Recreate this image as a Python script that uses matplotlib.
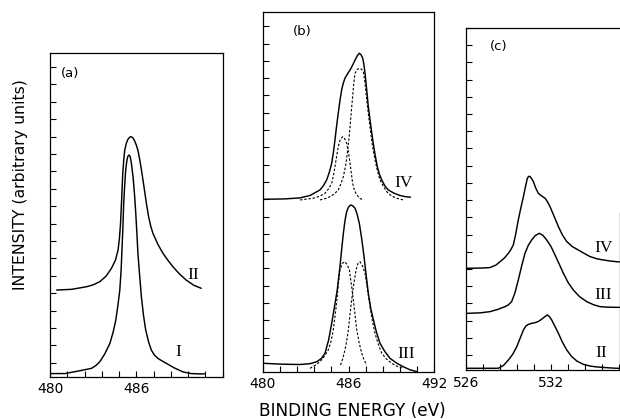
import matplotlib
matplotlib.use("Agg")
import matplotlib.pyplot as plt
from matplotlib.ticker import MultipleLocator, FixedLocator, NullFormatter

# ---------------- data ----------------
# (a) spectra I and II
a_I_energy = [480.0, 481.04, 482.0, 482.89, 483.2, 483.46, 483.8, 484.16, 484.4, 484.57,
              484.72, 484.85, 484.94, 485.01, 485.07, 485.12, 485.19, 485.26, 485.33,
              485.4, 485.49, 485.57, 485.65, 485.71, 485.77, 485.87, 485.96, 486.04,
              486.11, 486.23, 486.35, 486.5, 486.65, 486.85, 487.04, 487.25, 487.5,
              487.8, 488.08, 488.6, 489.23, 489.8, 490.39, 490.73]
a_I_counts = [-0.62, -0.62, -0.47, -0.32, -0.15, 0.06, 0.5, 1.11, 1.8, 2.45,
              3.3, 4.18, 5.3, 6.67, 7.9, 9.16, 10.2, 11.07, 11.55,
              11.85, 11.94, 11.85, 11.5, 11.1, 10.69, 9.7, 8.59, 7.4,
              6.29, 5.0, 3.79, 2.7, 1.88, 1.2, 0.73, 0.45, 0.25,
              0.1, -0.03, -0.28, -0.52, -0.62, -0.64, -0.64]
a_II_energy = [480.46, 481.5, 482.54, 483.0, 483.46, 483.9, 484.27, 484.55, 484.73, 484.83,
               484.9, 484.98, 485.05, 485.12, 485.19, 485.3, 485.4, 485.53, 485.66,
               485.78, 485.9, 486.0, 486.11, 486.23, 486.35, 486.46, 486.58, 486.7,
               486.85, 487.0, 487.15, 487.5, 487.85, 488.2, 488.54, 489.0, 489.47,
               490.0, 490.51]
a_II_counts = [4.18, 4.22, 4.37, 4.48, 4.66, 4.98, 5.43, 5.9, 6.48, 7.2,
               8.0, 9.4, 10.8, 11.6, 12.2, 12.6, 12.82, 12.96, 12.99,
               12.9, 12.72, 12.5, 12.2, 11.7, 11.1, 10.5, 9.83, 9.15,
               8.4, 7.85, 7.44, 6.8, 6.29, 5.88, 5.52, 5.1, 4.75,
               4.45, 4.28]

# (b) spectra III and IV with their two fitted components
b_IV_energy = [480.0, 481.5, 482.6, 483.3, 484.0, 484.25, 484.47, 484.65, 484.82, 484.94,
               485.05, 485.16, 485.28, 485.4, 485.52, 485.63, 485.75, 485.93, 486.11,
               486.3, 486.46, 486.62, 486.76, 486.88, 487.0, 487.08, 487.16, 487.28,
               487.39, 487.55, 487.7, 487.86, 488.02, 488.17, 488.33, 488.55, 488.79,
               489.2, 489.61, 490.0, 490.35]
b_IV_counts = [9.0, 9.02, 9.08, 9.22, 9.54, 9.8, 10.12, 10.55, 11.08, 11.7,
               12.43, 13.2, 13.97, 14.7, 15.32, 15.7, 15.99, 16.25, 16.47,
               16.77, 17.05, 17.3, 17.44, 17.35, 17.15, 16.8, 16.28, 15.3,
               14.35, 13.35, 12.43, 11.6, 10.88, 10.45, 10.12, 9.78, 9.54,
               9.35, 9.22, 9.15, 9.12]
b_IV_low_energy = [482.6, 483.53, 484.0, 484.35, 484.6, 484.82, 484.95, 485.05, 485.17,
                   485.28, 485.42, 485.59, 485.73, 485.87, 486.0, 486.11, 486.2, 486.29,
                   486.42, 486.58, 486.8, 487.04]
b_IV_low_counts = [8.96, 9.06, 9.18, 9.35, 9.6, 9.92, 10.4, 10.88, 11.5,
                   12.04, 12.45, 12.62, 12.5, 12.24, 11.7, 11.08, 10.5, 9.92,
                   9.5, 9.25, 9.05, 8.96]
b_IV_high_energy = [484.0, 484.4, 484.7, 485.0, 485.28, 485.47, 485.64, 485.8, 485.92,
                    486.02, 486.11, 486.2, 486.29, 486.37, 486.46, 486.6, 486.76, 486.9,
                    487.04, 487.16, 487.28, 487.42, 487.56, 487.7, 487.86, 488.03, 488.21,
                    488.45, 488.68, 489.0, 489.38, 489.85]
b_IV_high_counts = [8.96, 9.05, 9.15, 9.3, 9.54, 9.9, 10.31, 10.95, 11.66,
                    12.4, 13.2, 14.1, 14.93, 15.7, 16.28, 16.5, 16.57, 16.52,
                    16.38, 15.7, 14.74, 13.75, 12.82, 12.0, 11.27, 10.65, 10.12,
                    9.75, 9.44, 9.2, 9.06, 8.96]

b_III_energy = [480.02, 481.3, 482.6, 483.3, 483.77, 484.1, 484.35, 484.6, 484.82, 485.02,
                485.21, 485.3, 485.4, 485.52, 485.64, 485.75, 485.87, 486.0, 486.15,
                486.3, 486.46, 486.6, 486.76, 486.93, 487.09, 487.24, 487.39, 487.56,
                487.75, 487.97, 488.21, 488.55, 488.91, 489.4, 489.85, 490.3, 490.79]
b_III_counts = [-0.48, -0.53, -0.55, -0.5, -0.39, -0.2, 0.1, 0.85, 1.83, 2.8,
                3.76, 4.4, 5.1, 6.1, 7.03, 7.75, 8.28, 8.55, 8.67,
                8.62, 8.48, 8.15, 7.61, 6.7, 5.68, 4.6, 3.57, 2.7,
                2.02, 1.3, 0.68, 0.2, -0.19, -0.48, -0.68, -0.85, -0.96]
b_III_low_energy = [483.3, 483.65, 484.0, 484.3, 484.58, 484.78, 484.93, 485.08, 485.21,
                    485.3, 485.4, 485.57, 485.75, 485.92, 486.06, 486.2, 486.34, 486.46,
                    486.58, 486.75, 486.93, 487.1, 487.28]
b_III_low_counts = [-0.77, -0.6, -0.39, -0.08, 0.29, 0.8, 1.45, 2.4, 3.37,
                    4.2, 4.91, 5.3, 5.39, 5.2, 4.91, 4.1, 3.18, 2.3,
                    1.45, 0.7, 0.1, -0.3, -0.58]
b_III_high_energy = [485.44, 485.6, 485.75, 485.87, 485.99, 486.1, 486.22, 486.37, 486.53,
                     486.67, 486.81, 486.98, 487.16, 487.33, 487.51, 487.68, 487.86, 488.1,
                     488.33, 488.65, 489.03, 489.4, 489.85]
b_III_high_counts = [-0.58, -0.2, 0.29, 0.8, 1.45, 2.3, 3.18, 4.1, 4.91,
                     5.3, 5.39, 5.15, 4.72, 3.8, 2.79, 1.95, 1.25, 0.6,
                     0.1, -0.22, -0.48, -0.65, -0.77]

# (c) spectra II, III and IV
c_IV_energy = [526.05, 527.0, 527.69, 528.1, 528.4, 528.7, 528.99, 529.18, 529.34, 529.5,
               529.69, 529.87, 530.05, 530.2, 530.33, 530.42, 530.52, 530.63, 530.75,
               530.92, 531.1, 531.32, 531.58, 531.75, 531.93, 532.22, 532.52, 532.8,
               533.11, 533.5, 533.93, 534.35, 534.75, 535.2, 535.69, 536.2, 536.64, 536.83]
c_IV_counts = [5.04, 5.05, 5.08, 5.22, 5.42, 5.63, 5.91, 6.15, 6.4, 7.0,
               7.85, 8.55, 9.2, 9.8, 10.27, 10.38, 10.37, 10.25, 10.08,
               9.7, 9.4, 9.25, 9.11, 8.9, 8.62, 8.05, 7.46, 6.98,
               6.59, 6.3, 6.1, 5.9, 5.72, 5.6, 5.52, 5.46, 5.42, 5.41]
c_III_energy = [526.05, 527.0, 527.69, 528.25, 528.75, 529.0, 529.22, 529.45, 529.69, 529.92,
                530.16, 530.4, 530.64, 530.9, 531.17, 531.43, 531.69, 532.0, 532.28,
                532.58, 532.87, 533.2, 533.57, 534.0, 534.52, 535.0, 535.46, 536.0,
                536.64, 536.83]
c_III_counts = [2.42, 2.45, 2.52, 2.65, 2.81, 2.92, 3.1, 3.6, 4.36, 5.15,
                5.91, 6.38, 6.69, 6.95, 7.07, 6.95, 6.69, 6.3, 5.81,
                5.28, 4.75, 4.22, 3.78, 3.4, 3.1, 2.92, 2.81, 2.78,
                2.77, 2.77]
c_II_energy = [526.05, 527.2, 528.28, 528.65, 528.99, 529.3, 529.58, 529.82, 530.05, 530.22,
               530.4, 530.63, 530.87, 531.1, 531.34, 531.55, 531.74, 531.9, 532.05,
               532.28, 532.52, 532.8, 533.11, 533.45, 533.82, 534.28, 534.75, 535.2,
               535.69, 536.2, 536.64, 536.83]
c_II_counts = [-0.77, -0.77, -0.77, -0.6, -0.29, 0.05, 0.48, 0.98, 1.45, 1.68,
               1.78, 1.84, 1.88, 1.95, 2.08, 2.22, 2.33, 2.22, 2.03,
               1.66, 1.26, 0.75, 0.29, -0.08, -0.35, -0.54, -0.64, -0.69,
               -0.72, -0.75, -0.77, -0.77]

# tick labels
a_xticks = [480, 486]
b_xticks = [480, 486, 492]
c_xticks = [526, 532]

# ---------------- figure ----------------
W, H = 620, 419
fig = plt.figure(figsize=(W / 100, H / 100), dpi=100)
fig.patch.set_facecolor("white")


def rect(left, right, top, bottom):
    return [left / W, 1 - bottom / H, (right - left) / W, (bottom - top) / H]


ax_a = fig.add_axes(rect(50, 222.7, 53, 376.7))
ax_b = fig.add_axes(rect(263, 434, 11.7, 371.7))
ax_c = fig.add_axes(rect(466, 619.5, 28, 370))

TICK_FONT = dict(family="DejaVu Sans", size=10)
ROMAN = dict(family="Liberation Serif", size=12.5, color="black")
SOLID = dict(color="black", lw=1.05, solid_joinstyle="round", solid_capstyle="round")
DASH = dict(color="black", lw=0.8, linestyle=(0, (2.2, 1.6)))


def style(ax, xlim, ylim, xticks):
    ax.set_xlim(*xlim)
    ax.set_ylim(*ylim)
    for s in ax.spines.values():
        s.set_linewidth(0.9)
    ax.xaxis.set_major_locator(FixedLocator(xticks))
    ax.xaxis.set_minor_locator(MultipleLocator(1.2, offset=xlim[0] % 1.2))
    ax.yaxis.set_major_locator(MultipleLocator(1))
    ax.yaxis.set_major_formatter(NullFormatter())
    ax.tick_params(axis="x", which="both", direction="in", length=4, width=0.8,
                   top=False, pad=4)
    ax.tick_params(axis="y", which="major", direction="in", length=4, width=0.8,
                   right=False)
    ax.set_xticklabels([str(t) for t in xticks], **TICK_FONT)


style(ax_a, (480, 492), (-0.8, 17.8), a_xticks)
style(ax_b, (480, 492), (-0.965, 19.84), b_xticks)
style(ax_c, (526, 536.83), (-0.87, 19.0), c_xticks)

# panel (a)
ax_a.plot(a_I_energy, a_I_counts, **SOLID)
ax_a.plot(a_II_energy, a_II_counts, **SOLID)
ax_a.text(489.92, 5.04, "II", ha="center", va="center", **ROMAN)
ax_a.text(488.89, 0.63, "I", ha="center", va="center", **ROMAN)
ax_a.text(481.39, 16.65, "(a)", ha="center", va="center", family="DejaVu Sans", size=9.5)

# panel (b)
ax_b.plot(b_IV_energy, b_IV_counts, **SOLID)
ax_b.plot(b_IV_low_energy, b_IV_low_counts, **DASH)
ax_b.plot(b_IV_high_energy, b_IV_high_counts, **DASH)
ax_b.plot(b_III_energy, b_III_counts, **SOLID)
ax_b.plot(b_III_low_energy, b_III_low_counts, **DASH)
ax_b.plot(b_III_high_energy, b_III_high_counts, **DASH)
ax_b.text(489.85, 9.96, "IV", ha="center", va="center", **ROMAN)
ax_b.text(490.08, 0.05, "III", ha="center", va="center", **ROMAN)
ax_b.text(482.72, 18.69, "(b)", ha="center", va="center", family="DejaVu Sans", size=9.5)

# panel (c)
ax_c.plot(c_IV_energy, c_IV_counts, **SOLID)
ax_c.plot(c_III_energy, c_III_counts, **SOLID)
ax_c.plot(c_II_energy, c_II_counts, **SOLID)
ax_c.text(535.69, 6.2, "IV", ha="center", va="center", **ROMAN)
ax_c.text(535.69, 3.49, "III", ha="center", va="center", **ROMAN)
ax_c.text(535.57, 0.1, "II", ha="center", va="center", **ROMAN)
ax_c.text(528.28, 17.92, "(c)", ha="center", va="center", family="DejaVu Sans", size=9.5)
ax_c.spines["right"].set_bounds(-0.87, 8.26)

# shared axis titles
fig.text(20.7 / W, 1 - 185 / H, "INTENSITY (arbitrary units)", rotation=90,
         ha="center", va="center", family="DejaVu Sans", size=11.3)
fig.text(352 / W, 1 - 411 / H, "BINDING ENERGY (eV)", ha="center", va="center",
         family="DejaVu Sans", size=12.2)

fig.savefig("out.png", dpi=100, facecolor="white")
